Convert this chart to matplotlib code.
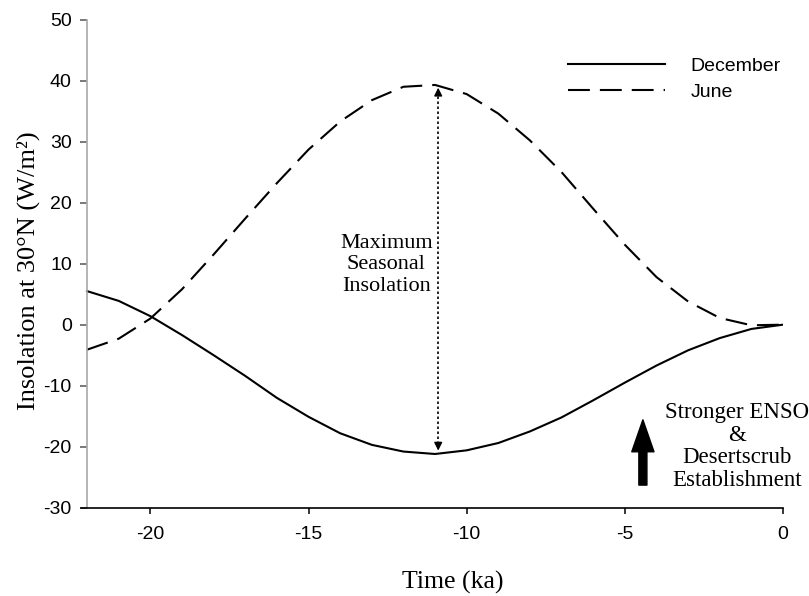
import matplotlib
matplotlib.use("Agg")
import matplotlib.pyplot as plt
from matplotlib.lines import Line2D

# ---- data ----
time_ka = [-22, -21, -20, -19, -18, -17, -16, -15, -14, -13, -12, -11,
           -10, -9, -8, -7, -6, -5, -4, -3, -2, -1, 0]
december = [5.5, 3.9, 1.4, -1.7, -5.0, -8.4, -12.0, -15.1, -17.8, -19.7, -20.8, -21.2,
            -20.6, -19.4, -17.5, -15.2, -12.4, -9.5, -6.7, -4.2, -2.2, -0.7, 0.0]
june = [-4.1, -2.3, 1.0, 5.8, 11.5, 17.4, 23.2, 28.7, 33.3, 36.8, 39.0, 39.3,
        37.8, 34.6, 30.2, 25.0, 19.0, 13.1, 7.8, 3.8, 1.1, -0.1, 0.0]
series_labels = ["December", "June"]
x_ticks = [-20, -15, -10, -5, 0]
y_ticks = [-30, -20, -10, 0, 10, 20, 30, 40, 50]

range_x = -10.9            # location of the "maximum seasonal insolation" arrow
range_top = 39.3
range_bottom = -21.1
enso_arrow_x = -4.43
enso_arrow_from = -26.3
enso_arrow_to = -15.6

SERIF = ["Liberation Serif", "DejaVu Serif"]
SANS = ["Liberation Sans", "DejaVu Sans"]

fig = plt.figure(figsize=(8.09, 5.96), dpi=100)
ax = fig.add_axes([0.0998, 0.1482, 0.8681, 0.8188])

ax.plot(time_ka, december, color="black", lw=1.5, solid_joinstyle="round")
ax.plot(time_ka, june, color="black", lw=1.5, dashes=(10.5, 4.8))

ax.set_xlim(-22.2, 0)
ax.set_ylim(-30, 50)
ax.spines["left"].set_position(("data", -22))
ax.spines["left"].set_color("#a8a8a8")
ax.spines["left"].set_linewidth(1.2)
ax.spines["bottom"].set_linewidth(1.2)
ax.spines["top"].set_visible(False)
ax.spines["right"].set_visible(False)

ax.set_xticks(x_ticks)
ax.set_xticklabels([str(v) for v in x_ticks], family=SANS, fontsize=14)
ax.set_yticks(y_ticks)
ax.set_yticklabels([str(v) for v in y_ticks], family=SANS, fontsize=14)
ax.tick_params(axis="x", direction="out", length=4.5, width=1.1, pad=9, colors="black")
ax.tick_params(axis="y", direction="out", length=5, width=1.1, pad=6,
               color="#555555", labelcolor="black")

ax.set_xlabel("Time (ka)", family=SERIF, fontsize=18.5)
ax.set_ylabel("Insolation at 30°N (W/m²)", family=SERIF, fontsize=19)
ax.yaxis.set_label_coords(-0.058, 0.485)
ax.xaxis.set_label_coords(0.53, -0.129)

# dotted double arrow for maximum seasonal insolation
ax.vlines(range_x, range_bottom + 1.5, range_top - 1.5, colors="black",
          linestyles=(0, (1.5, 1.5)), lw=1.2)
ax.annotate("", xy=(range_x, range_top), xytext=(range_x, range_top - 2),
            arrowprops=dict(arrowstyle="-|>", color="black", lw=1, mutation_scale=12))
ax.annotate("", xy=(range_x, range_bottom), xytext=(range_x, range_bottom + 2),
            arrowprops=dict(arrowstyle="-|>", color="black", lw=1, mutation_scale=12))
ax.text(-12.54, 9.8, "Maximum\nSeasonal\nInsolation", family=SERIF, fontsize=16,
        ha="center", va="center", linespacing=1.2)

# ENSO arrow and text
ax.annotate("", xy=(enso_arrow_x, enso_arrow_to), xytext=(enso_arrow_x, enso_arrow_from),
            arrowprops=dict(width=5.8, headwidth=16, headlength=23, color="black", shrink=0))
ax.text(-1.45, -20.0, "Stronger ENSO\n&\nDesertscrub\nEstablishment", family=SERIF,
        fontsize=16.5, ha="center", va="center", linespacing=1.1)

# legend
handles = [Line2D([], [], color="black", lw=1.5),
           Line2D([], [], color="black", lw=1.5, dashes=(10.5, 4.8))]
leg = ax.legend(handles, series_labels, loc="upper left",
                bbox_to_anchor=(568 / 809, 1 - 57 / 596), bbox_transform=fig.transFigure,
                frameon=False, borderpad=0, borderaxespad=0, handlelength=5,
                handletextpad=1.3, labelspacing=0.45, prop={"family": SANS, "size": 14})

fig.savefig("out.png", dpi=100)
